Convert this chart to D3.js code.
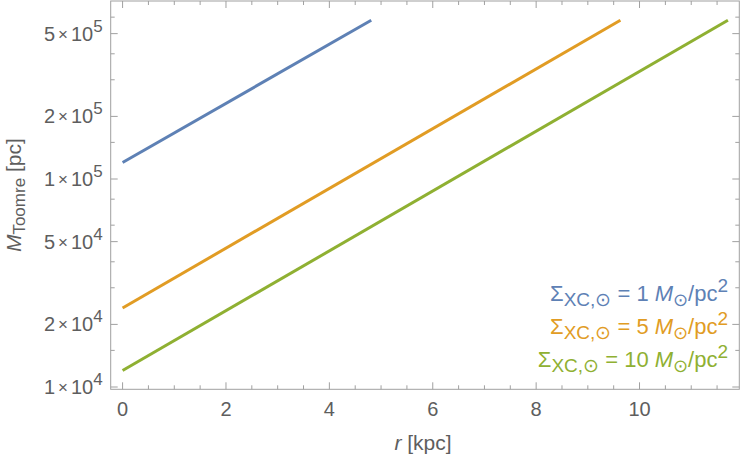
<!DOCTYPE html>
<html>
<head>
<meta charset="utf-8">
<script src="https://cdn.jsdelivr.net/npm/d3@7"></script>
<style>
  body { margin: 0; background: #fff; }
  text { font-family: "Liberation Sans", Arial, sans-serif; }
</style>
</head>
<body>
<div id="chart"></div>
<script>
// series: straight lines on log-y, read as endpoints [r, M]
const seriesNames = ["1", "5", "10"];
const seriesColors = ["#5e81b5", "#e19c24", "#8fb032"];
const blueLine = [[0, 1.2e5], [4.81, 5.8e5]];
const orangeLine = [[0, 2.4e4], [9.63, 5.8e5]];
const greenLine = [[0, 1.2e4], [11.71, 5.8e5]];
const seriesData = [blueLine, orangeLine, greenLine];

const xMajorTicks = [0, 2, 4, 6, 8, 10];
const yMajorTicks = [1e4, 2e4, 5e4, 1e5, 2e5, 5e5];
const yMinorMant = [1.5, 3, 4, 6, 8];

const width = 750, height = 465;
const plot = { left: 110.7, right: 739.3, top: 1, bottom: 389.3 };
const axisColor = "#a0a0a0";
const textColor = "#5e5e5e";

const svg = d3.select("#chart").append("svg")
  .attr("width", width)
  .attr("height", height);

const x = d3.scaleLinear().domain([-0.23, 11.93]).range([plot.left, plot.right]);
const y = d3.scaleLog().domain([9750, 7.175e5]).range([plot.bottom, plot.top]);

// lines
const line = d3.line().x(d => x(d[0])).y(d => y(d[1]));
svg.append("g").selectAll("path")
  .data(seriesData)
  .join("path")
  .attr("d", line)
  .attr("fill", "none")
  .attr("stroke", (d, i) => seriesColors[i])
  .attr("stroke-width", 3);

// frame
svg.append("rect")
  .attr("x", plot.left).attr("y", plot.top)
  .attr("width", plot.right - plot.left).attr("height", plot.bottom - plot.top)
  .attr("fill", "none").attr("stroke", axisColor).attr("stroke-width", 1);

// x ticks (bottom + top)
const xMinor = d3.range(0, 11.9, 0.5).filter(v => v % 2 !== 0);
const ticks = svg.append("g").attr("stroke", axisColor).attr("stroke-width", 1);
xMajorTicks.forEach(v => {
  ticks.append("line").attr("x1", x(v)).attr("x2", x(v)).attr("y1", plot.bottom).attr("y2", plot.bottom - 7);
  ticks.append("line").attr("x1", x(v)).attr("x2", x(v)).attr("y1", plot.top).attr("y2", plot.top + 7);
});
xMinor.forEach(v => {
  ticks.append("line").attr("x1", x(v)).attr("x2", x(v)).attr("y1", plot.bottom).attr("y2", plot.bottom - 4);
  ticks.append("line").attr("x1", x(v)).attr("x2", x(v)).attr("y1", plot.top).attr("y2", plot.top + 4);
});

// y ticks (left + right)
const yMinor = [];
[1e4, 1e5].forEach(dec => yMinorMant.forEach(m => yMinor.push(m * dec)));
const [y0, y1] = y.domain();
yMajorTicks.forEach(v => {
  ticks.append("line").attr("x1", plot.left).attr("x2", plot.left + 7).attr("y1", y(v)).attr("y2", y(v));
  ticks.append("line").attr("x1", plot.right).attr("x2", plot.right - 7).attr("y1", y(v)).attr("y2", y(v));
});
yMinor.filter(v => v >= y0 && v <= y1).forEach(v => {
  ticks.append("line").attr("x1", plot.left).attr("x2", plot.left + 4).attr("y1", y(v)).attr("y2", y(v));
  ticks.append("line").attr("x1", plot.right).attr("x2", plot.right - 4).attr("y1", y(v)).attr("y2", y(v));
});

// x tick labels
svg.append("g").selectAll("text")
  .data(xMajorTicks)
  .join("text")
  .attr("x", d => x(d))
  .attr("y", 416)
  .attr("text-anchor", "middle")
  .attr("fill", textColor)
  .attr("font-size", 20)
  .text(d => d);

// y tick labels: m×10^e
yMajorTicks.forEach(v => {
  const e = Math.floor(Math.log10(v));
  const m = Math.round(v / Math.pow(10, e));
  const t = svg.append("text")
    .attr("x", plot.left - 8)
    .attr("y", y(v) + 7)
    .attr("text-anchor", "end")
    .attr("fill", textColor)
    .attr("font-size", 20);
  t.append("tspan").text(m);
  t.append("tspan").attr("font-size", 17).attr("dx", 3).attr("dy", -1).text("×");
  t.append("tspan").attr("dx", 3).attr("dy", 1).text("10");
  t.append("tspan").attr("font-size", 17).attr("dy", -9).text(e);
});

// axis titles
const xt = svg.append("text")
  .attr("x", 423)
  .attr("y", 450)
  .attr("text-anchor", "middle")
  .attr("fill", textColor)
  .attr("font-size", 21);
xt.append("tspan").attr("font-style", "italic").text("r");
xt.append("tspan").text(" [kpc]");

const yt = svg.append("text")
  .attr("transform", `translate(21,${(plot.top + plot.bottom) / 2}) rotate(-90)`)
  .attr("text-anchor", "middle")
  .attr("fill", textColor)
  .attr("font-size", 21);
yt.append("tspan").attr("font-style", "italic").text("M");
yt.append("tspan").attr("font-size", 17).attr("dy", 4).text("Toomre");
yt.append("tspan").attr("dy", -4).text(" [pc]");

// legend
const legendY = [301, 334, 367];
seriesNames.forEach((name, i) => {
  const t = svg.append("text")
    .attr("x", 728)
    .attr("y", legendY[i])
    .attr("text-anchor", "end")
    .attr("fill", seriesColors[i])
    .attr("font-size", 22);
  t.append("tspan").text("Σ");
  t.append("tspan").attr("font-size", 19).attr("dy", 5).text("XC,⊙");
  t.append("tspan").attr("dy", -5).text(" = " + name + " ");
  t.append("tspan").attr("font-style", "italic").text("M");
  t.append("tspan").attr("font-size", 18).attr("dy", 5).text("⊙");
  t.append("tspan").attr("dy", -5).text("/pc");
  t.append("tspan").attr("font-size", 19).attr("dy", -9).text("2");
});
</script>
</body>
</html>
